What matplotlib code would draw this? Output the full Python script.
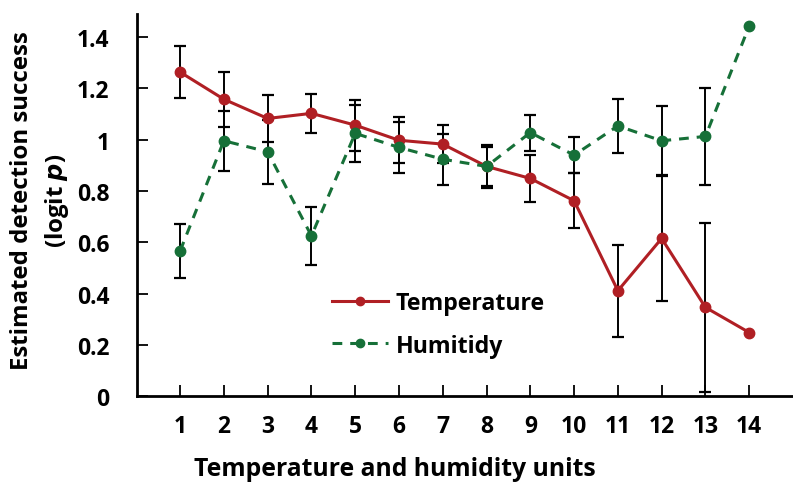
import matplotlib
matplotlib.use("Agg")
import matplotlib.pyplot as plt

units = list(range(1, 15))
temperature = [1.264, 1.158, 1.083, 1.103, 1.057, 0.998, 0.983, 0.896, 0.849, 0.762, 0.411, 0.615, 0.346, 0.248]
temp_err = [0.10, 0.107, 0.092, 0.075, 0.10, 0.09, 0.073, 0.075, 0.09, 0.107, 0.18, 0.245, 0.33, None]
humidity = [0.566, 0.996, 0.953, 0.625, 1.025, 0.970, 0.924, 0.896, 1.028, 0.940, 1.054, 0.996, 1.013, 1.444]
hum_err = [0.105, 0.117, 0.125, 0.113, 0.11, 0.10, 0.10, 0.085, 0.07, 0.07, 0.105, 0.135, 0.19, None]
yticks = [0, 0.2, 0.4, 0.6, 0.8, 1, 1.2, 1.4]
ytick_labels = ["0", "0.2", "0.4", "0.6", "0.8", "1", "1.2", "1.4"]

red = "#b01f24"
green = "#167038"

plt.rcParams['font.family'] = ['Open Sans', 'DejaVu Sans']

fig = plt.figure(figsize=(7.93, 4.89), dpi=100)
ax = fig.add_axes([0.173, 0.188, 0.827, 0.781])

def split(vals, errs):
    xs, ys, es = [], [], []
    for x, v, e in zip(units, vals, errs):
        if e is not None:
            xs.append(x); ys.append(v); es.append(e)
    return xs, ys, es

for vals, errs in ((temperature, temp_err), (humidity, hum_err)):
    xs, ys, es = split(vals, errs)
    ax.errorbar(xs, ys, yerr=es, fmt='none', ecolor='black', elinewidth=1.4,
                capsize=4.5, capthick=1.6, zorder=2)

ax.plot(units, temperature, color=red, lw=2.2, marker='o', ms=7.5, zorder=3,
        label='Temperature')
ax.plot(units, humidity, color=green, lw=2.2, ls=(0, (3.2, 2.6)), marker='o', ms=7.5,
        zorder=3, label='Humitidy')

ax.set_xlim(0.02, 15.0)
ax.set_ylim(0, 1.49)
ax.set_xticks(units)
ax.set_xticklabels([str(u) for u in units])
ax.set_yticks(yticks)
ax.set_yticklabels(ytick_labels)

for s in ('top', 'right'):
    ax.spines[s].set_visible(False)
for s in ('left', 'bottom'):
    ax.spines[s].set_linewidth(2.0)
ax.tick_params(axis='both', direction='in', length=8, width=1.3, labelsize=16.5)
ax.tick_params(axis='x', pad=13)
ax.tick_params(axis='y', pad=20)
for lab in ax.get_xticklabels() + ax.get_yticklabels():
    lab.set_fontweight('bold')

fig.text(0.028, 0.589, 'Estimated detection success', rotation=90, ha='center', va='center',
         fontsize=17.3, fontweight='bold')
fig.text(0.072, 0.589, r'(logit $\boldsymbol{p}$)', rotation=90, ha='center', va='center',
         fontsize=17.3, fontweight='bold')
fig.text(0.498, 0.039, 'Temperature and humidity units', ha='center',
         va='center', fontsize=17.8, fontweight='bold')

leg = ax.legend(loc='upper left', bbox_to_anchor=(0.297, 0.274), frameon=False,
                fontsize=16.7, handlelength=2.4, handletextpad=0.35, labelspacing=0.78,
                borderpad=0, borderaxespad=0, markerscale=0.8)
for t in leg.get_texts():
    t.set_fontweight('bold')

fig.savefig('out.png', dpi=100)
